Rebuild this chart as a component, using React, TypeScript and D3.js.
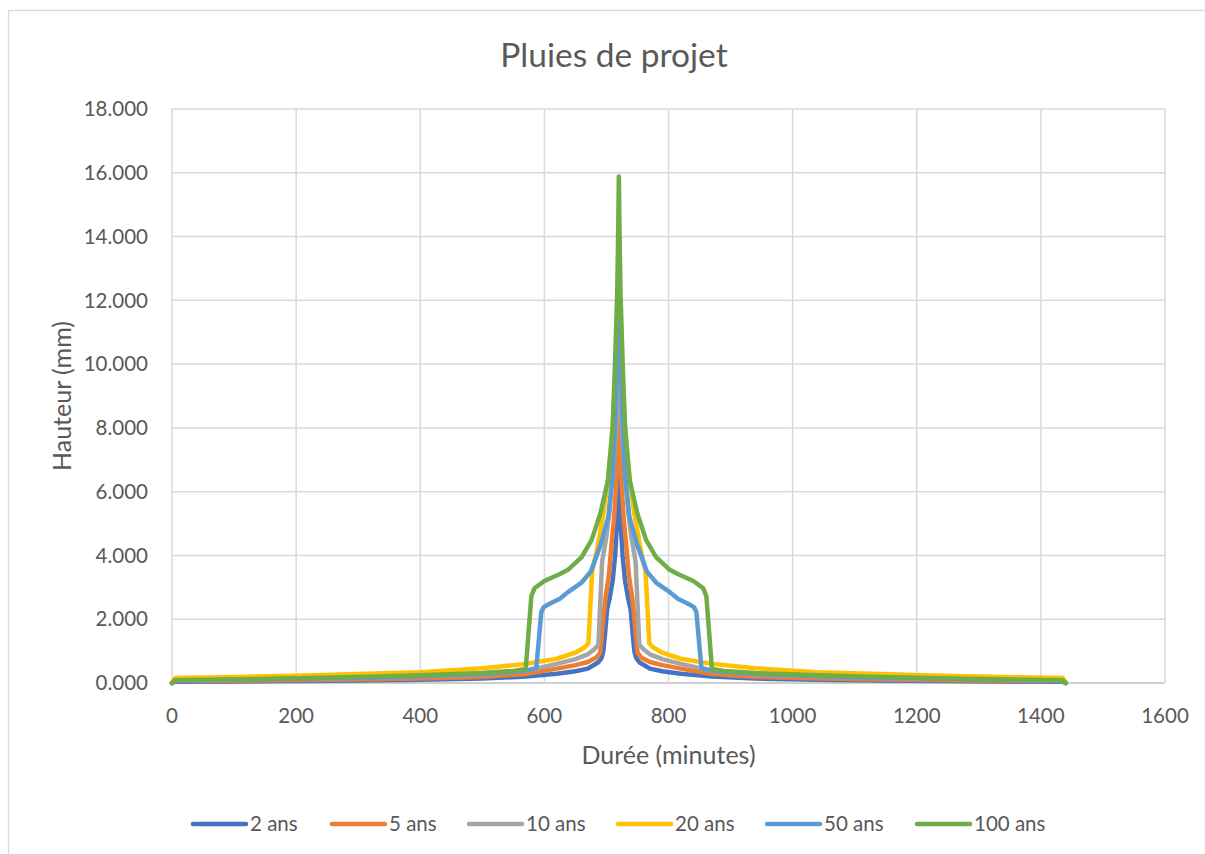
import React from 'react';
import * as d3 from 'd3';

type Pt = [number, number];

// axis ticks
const dureeTicks = [0, 200, 400, 600, 800, 1000, 1200, 1400, 1600];
const hauteurTicks = [0, 2, 4, 6, 8, 10, 12, 14, 16, 18];

const seriesNames = ['2 ans', '5 ans', '10 ans', '20 ans', '50 ans', '100 ans'];
const seriesColors = ['#4472C4', '#ED7D31', '#A5A5A5', '#FFC000', '#5B9BD5', '#70AD47'];

// [durée (min), hauteur (mm)]
const pluie2ans: Pt[] = [
  [0, 0], [5, 0.04], [100, 0.05], [200, 0.06], [300, 0.08], [400, 0.10], [500, 0.14], [570, 0.20],
  [620, 0.29], [650, 0.37], [670, 0.45], [687, 0.65], [692, 0.78], [695, 1.0], [698, 1.6], [701, 2.3],
  [705, 2.65], [710, 3.2], [714, 4.0], [717, 5.0], [720, 6.87], [723, 5.0], [726, 4.0], [730, 3.2],
  [735, 2.65], [739, 2.3], [742, 1.6], [745, 1.0], [748, 0.78], [753, 0.65], [770, 0.45], [790, 0.37],
  [820, 0.29], [870, 0.20], [940, 0.14], [1040, 0.10], [1140, 0.08], [1240, 0.06], [1340, 0.05],
  [1435, 0.04], [1440, 0],
];
const pluie5ans: Pt[] = [
  [0, 0], [5, 0.06], [100, 0.07], [200, 0.09], [300, 0.11], [400, 0.14], [500, 0.19], [570, 0.28],
  [620, 0.45], [650, 0.56], [670, 0.66], [684, 0.80], [690, 0.95], [694, 1.8], [698, 2.6], [704, 3.4],
  [708, 4.3], [712, 5.1], [715, 6.0], [718, 7.3], [720, 8.5], [722, 7.3], [725, 6.0], [728, 5.1],
  [732, 4.3], [736, 3.4], [742, 2.6], [746, 1.8], [750, 0.95], [756, 0.80], [770, 0.66], [790, 0.56],
  [820, 0.45], [870, 0.28], [940, 0.19], [1040, 0.14], [1140, 0.11], [1240, 0.09], [1340, 0.07],
  [1435, 0.06], [1440, 0],
];
const pluie10ans: Pt[] = [
  [0, 0], [5, 0.09], [100, 0.11], [200, 0.13], [300, 0.16], [400, 0.20], [500, 0.27], [570, 0.38],
  [620, 0.60], [650, 0.75], [670, 0.90], [680, 1.05], [687, 1.2], [693, 3.8], [700, 4.6], [705, 5.4],
  [710, 6.5], [714, 7.6], [717, 8.6], [720, 10.0], [723, 8.6], [726, 7.6], [730, 6.5], [735, 5.4],
  [740, 4.6], [747, 3.8], [753, 1.2], [760, 1.05], [770, 0.90], [790, 0.75], [820, 0.60], [870, 0.38],
  [940, 0.27], [1040, 0.20], [1140, 0.16], [1240, 0.13], [1340, 0.11], [1435, 0.09], [1440, 0],
];
const pluie20ans: Pt[] = [
  [0, 0], [5, 0.16], [100, 0.19], [200, 0.23], [300, 0.28], [400, 0.34], [500, 0.46], [570, 0.60],
  [620, 0.76], [650, 0.95], [665, 1.12], [671, 1.25], [677, 3.5], [685, 4.2], [695, 5.3], [702, 6.3],
  [708, 7.5], [712, 8.6], [716, 10.0], [720, 12.0], [724, 10.0], [728, 8.6], [732, 7.5], [738, 6.3],
  [745, 5.3], [755, 4.2], [763, 3.5], [769, 1.25], [775, 1.12], [790, 0.95], [820, 0.76], [870, 0.60],
  [940, 0.46], [1040, 0.34], [1140, 0.28], [1240, 0.23], [1340, 0.19], [1435, 0.16], [1440, 0],
];
const pluie50ans: Pt[] = [
  [0, 0], [5, 0.08], [100, 0.10], [200, 0.13], [300, 0.16], [400, 0.21], [500, 0.28], [550, 0.35],
  [575, 0.41], [587, 0.47], [595, 2.22], [599, 2.38], [610, 2.5], [625, 2.64], [638, 2.85], [660, 3.15],
  [675, 3.5], [690, 4.3], [703, 5.2], [710, 6.5], [714, 8.2], [717, 10.0], [720, 13.4], [723, 10.0],
  [726, 8.2], [730, 6.5], [737, 5.2], [750, 4.3], [765, 3.5], [780, 3.15], [802, 2.85], [815, 2.64],
  [830, 2.5], [841, 2.38], [845, 2.22], [853, 0.47], [865, 0.41], [890, 0.35], [940, 0.28],
  [1040, 0.21], [1140, 0.16], [1240, 0.13], [1340, 0.10], [1435, 0.08], [1440, 0],
];
const pluie100ans: Pt[] = [
  [0, 0], [5, 0.09], [100, 0.11], [200, 0.15], [300, 0.19], [400, 0.24], [500, 0.31], [550, 0.38],
  [570, 0.44], [579, 2.72], [584, 2.97], [600, 3.2], [625, 3.42], [638, 3.55], [660, 3.95], [676, 4.48],
  [690, 5.3], [702.5, 6.36], [710, 8.03], [714, 10.1], [717.3, 12.2], [718.8, 14.0], [720, 15.88],
  [721.2, 14.0], [722.7, 12.2], [726, 10.1], [730, 8.03], [737.5, 6.36], [750, 5.3], [764, 4.48],
  [780, 3.95], [802, 3.55], [815, 3.42], [840, 3.2], [856, 2.97], [861, 2.72], [870, 0.44],
  [890, 0.38], [940, 0.31], [1040, 0.24], [1140, 0.19], [1240, 0.15], [1340, 0.11], [1435, 0.09],
  [1440, 0],
];

const allSeries = [pluie2ans, pluie5ans, pluie10ans, pluie20ans, pluie50ans, pluie100ans];

// legend entry left edges
const legendStarts = [191, 330, 467, 616, 765, 915];

const FONT = "Lato, 'Open Sans', sans-serif";
const TEXT = '#595959';

export default function App() {
  const width = 1205;
  const height = 854;
  const plot = { left: 172, right: 1165, top: 109, bottom: 683 };

  const x = d3.scaleLinear().domain([0, 1600]).range([plot.left, plot.right]);
  const y = d3.scaleLinear().domain([0, 18]).range([plot.bottom, plot.top]);
  const line = d3.line<Pt>().x((d) => x(d[0])).y((d) => y(d[1]));
  const fmt = d3.format('.3f');

  return (
    <svg
      width={width}
      height={height}
      style={{ position: 'absolute', left: 0, top: 0, background: '#fff' }}
      fontFamily={FONT}
    >
      <rect x={8.5} y={10.5} width={1230} height={880} fill="#fff" stroke="#d9d9d9" strokeWidth={1.3} />

      <text x={614} y={67} textAnchor="middle" fontSize={33.5} fill={TEXT}>Pluies de projet</text>

      {/* grid */}
      {hauteurTicks.map((t) => (
        <line key={`h${t}`} x1={plot.left} x2={plot.right} y1={y(t)} y2={y(t)}
          stroke={t === 0 ? '#bfbfbf' : '#d9d9d9'} strokeWidth={1.5} />
      ))}
      {dureeTicks.map((t) => (
        <line key={`v${t}`} x1={x(t)} x2={x(t)} y1={plot.top} y2={plot.bottom}
          stroke="#d9d9d9" strokeWidth={1.5} />
      ))}

      {/* tick labels */}
      {hauteurTicks.map((t) => (
        <text key={`hl${t}`} x={148} y={y(t)} dy="0.35em" textAnchor="end" fontSize={20.5} fill={TEXT}>
          {fmt(t)}
        </text>
      ))}
      {dureeTicks.map((t) => (
        <text key={`vl${t}`} x={x(t)} y={716} dy="0.35em" textAnchor="middle" fontSize={20.5} fill={TEXT}>
          {t}
        </text>
      ))}

      <text x={(plot.left + plot.right) / 2} y={755} dy="0.35em" textAnchor="middle" fontSize={25} fill={TEXT}>
        Durée (minutes)
      </text>
      <text transform={`translate(62, ${(plot.top + plot.bottom) / 2}) rotate(-90)`} dy="0.35em"
        textAnchor="middle" fontSize={25} fill={TEXT}>
        Hauteur (mm)
      </text>

      {/* series */}
      {allSeries.map((s, i) => (
        <path key={seriesNames[i]} d={line(s) ?? ''} fill="none" stroke={seriesColors[i]}
          strokeWidth={4.5} strokeLinejoin="round" strokeLinecap="round" />
      ))}

      {/* legend */}
      {seriesNames.map((name, i) => (
        <g key={`lg${name}`} transform={`translate(${legendStarts[i]}, 824)`}>
          <line x1={2} x2={55} y1={0} y2={0} stroke={seriesColors[i]} strokeWidth={4.5} strokeLinecap="round" />
          <text x={59} y={0} dy="0.35em" fontSize={20.5} fill={TEXT}>{name}</text>
        </g>
      ))}
    </svg>
  );
}
